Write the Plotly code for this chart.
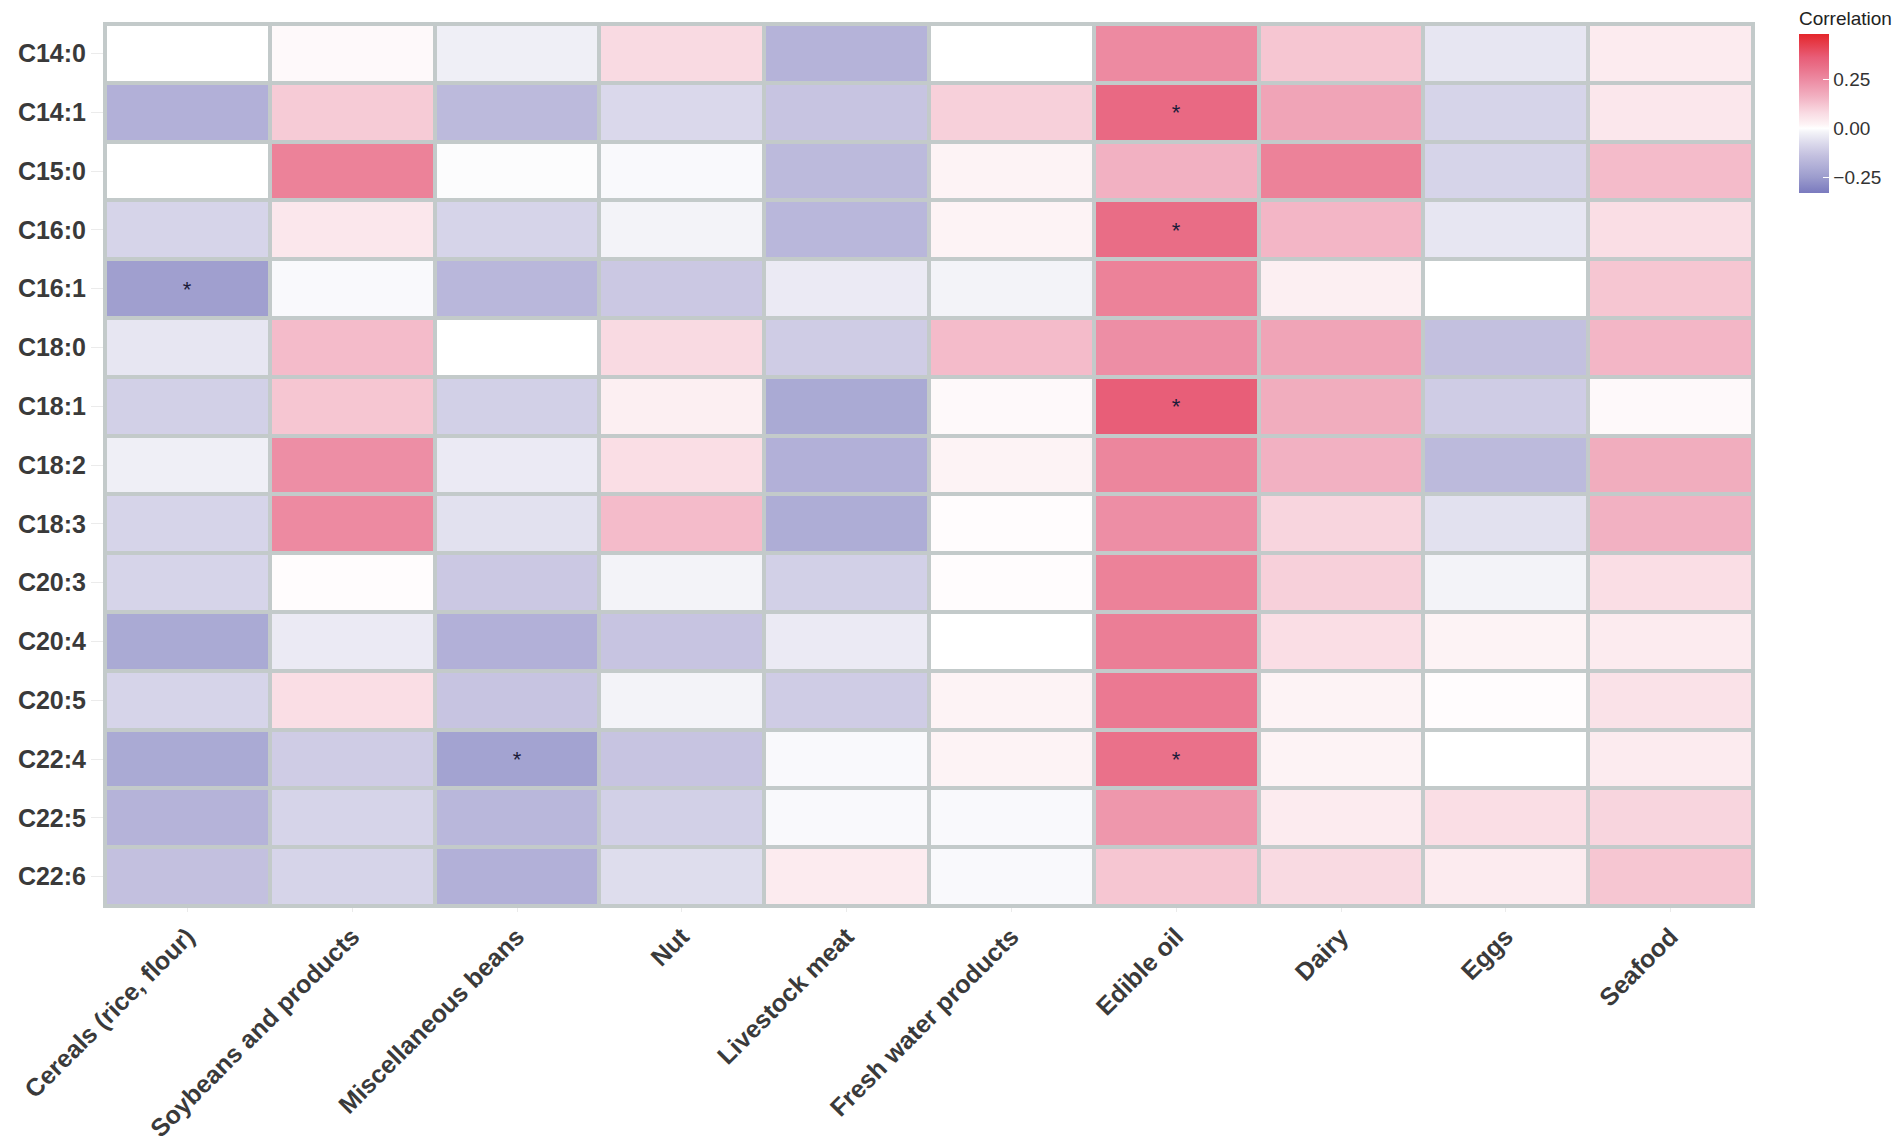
import plotly.graph_objects as go

foods = ["Cereals (rice, flour)", "Soybeans and products", "Miscellaneous beans", "Nut",
         "Livestock meat", "Fresh water products", "Edible oil", "Dairy", "Eggs", "Seafood"]
acids = ["C14:0", "C14:1", "C15:0", "C16:0", "C16:1", "C18:0", "C18:1", "C18:2",
         "C18:3", "C20:3", "C20:4", "C20:5", "C22:4", "C22:5", "C22:6"]

# correlation, one row per fatty acid (columns follow foods)
r_c14_0 = [0.00, 0.01, -0.03, 0.08, -0.18, 0.00, 0.25, 0.12, -0.05, 0.04]
r_c14_1 = [-0.19, 0.11, -0.16, -0.08, -0.13, 0.10, 0.33, 0.19, -0.09, 0.05]
r_c15_0 = [0.00, 0.27, -0.005, -0.01, -0.16, 0.02, 0.16, 0.27, -0.09, 0.14]
r_c16_0 = [-0.09, 0.05, -0.09, -0.02, -0.17, 0.02, 0.32, 0.15, -0.05, 0.07]
r_c16_1 = [-0.24, -0.01, -0.17, -0.12, -0.04, -0.02, 0.27, 0.03, 0.00, 0.12]
r_c18_0 = [-0.05, 0.14, 0.00, 0.08, -0.11, 0.14, 0.24, 0.19, -0.14, 0.15]
r_c18_1 = [-0.10, 0.12, -0.10, 0.03, -0.21, 0.01, 0.36, 0.17, -0.11, 0.01]
r_c18_2 = [-0.03, 0.24, -0.04, 0.07, -0.19, 0.02, 0.26, 0.16, -0.16, 0.17]
r_c18_3 = [-0.09, 0.25, -0.06, 0.14, -0.20, 0.005, 0.24, 0.09, -0.06, 0.16]
r_c20_3 = [-0.09, 0.005, -0.12, -0.02, -0.10, 0.005, 0.27, 0.10, -0.02, 0.07]
r_c20_4 = [-0.21, -0.04, -0.19, -0.13, -0.04, 0.00, 0.28, 0.07, 0.02, 0.04]
r_c20_5 = [-0.09, 0.07, -0.13, -0.02, -0.11, 0.02, 0.29, 0.02, 0.005, 0.06]
r_c22_4 = [-0.21, -0.11, -0.23, -0.13, -0.01, 0.02, 0.31, 0.02, 0.00, 0.04]
r_c22_5 = [-0.18, -0.09, -0.17, -0.10, -0.01, -0.01, 0.22, 0.04, 0.07, 0.09]
r_c22_6 = [-0.14, -0.09, -0.19, -0.07, 0.04, -0.01, 0.12, 0.08, 0.04, 0.12]

corr = [r_c14_0, r_c14_1, r_c15_0, r_c16_0, r_c16_1, r_c18_0, r_c18_1, r_c18_2,
        r_c18_3, r_c20_3, r_c20_4, r_c20_5, r_c22_4, r_c22_5, r_c22_6]

# significant cells (acid, food)
sig = [("C14:1", "Edible oil"), ("C16:0", "Edible oil"), ("C16:1", "Cereals (rice, flour)"),
       ("C18:1", "Edible oil"), ("C22:4", "Miscellaneous beans"), ("C22:4", "Edible oil")]

stars = [["*" if (a, f) in sig else "" for f in foods] for a in acids]

zmin, zmax = -0.33, 0.48
stops = [(-0.33, "#7a7abe"), (-0.25, "#9c9ccd"), (-0.20, "#aeadd6"), (-0.14, "#c3c0df"),
         (-0.08, "#dad8eb"), (-0.02, "#f3f3f8"), (0.0, "#ffffff"), (0.02, "#fdf3f5"),
         (0.08, "#f9dae2"), (0.16, "#f2b1c2"), (0.24, "#ed8ea5"), (0.32, "#e96d86"),
         (0.36, "#e85e78"), (0.48, "#e4262b")]
cscale = [[(v - zmin) / (zmax - zmin), c] for v, c in stops]

grid = "#c3caca"
font = "Liberation Sans"
lab_font = dict(size=25, color="#3a3a3a", family=font, weight="bold")

fig = go.Figure(go.Heatmap(
    z=corr, x=foods, y=acids,
    text=stars, texttemplate="%{text}",
    textfont=dict(size=22, color="#1c1c3a", family=font),
    colorscale=cscale, zmin=zmin, zmax=zmax,
    xgap=4, ygap=4,
    colorbar=dict(
        title=dict(text="Correlation", side="top", font=dict(size=19, color="#222", family=font)),
        tickvals=[-0.25, 0, 0.25], ticktext=["\u22120.25", "0.00", "0.25"],
        tickfont=dict(size=19, color="#333", family=font),
        ticks="inside", tickcolor="white", ticklen=6,
        thickness=30, thicknessmode="pixels",
        len=185, lenmode="pixels",
        xref="container", x=1791 / 1902, xanchor="left",
        yref="container", y=1.0, yanchor="top",
        outlinewidth=0, xpad=0, ypad=0,
    ),
))

fig.update_layout(
    width=1902, height=1143,
    margin=dict(l=97, r=157, t=16, b=245),
    paper_bgcolor="white", plot_bgcolor=grid,
    font=dict(family=font),
)
fig.update_xaxes(
    tickangle=-45, tickfont=lab_font,
    ticks="outside", ticklen=4, tickcolor="#ebebeb",
    showline=True, linewidth=2, linecolor=grid, mirror=True,
    showgrid=False, automargin=False,
)
fig.update_yaxes(
    autorange="reversed", tickfont=lab_font,
    ticks="outside", ticklen=12, tickcolor="#ebebeb",
    showline=True, linewidth=2, linecolor=grid, mirror=True,
    showgrid=False, automargin=False,
)

fig.write_html("out.html")
